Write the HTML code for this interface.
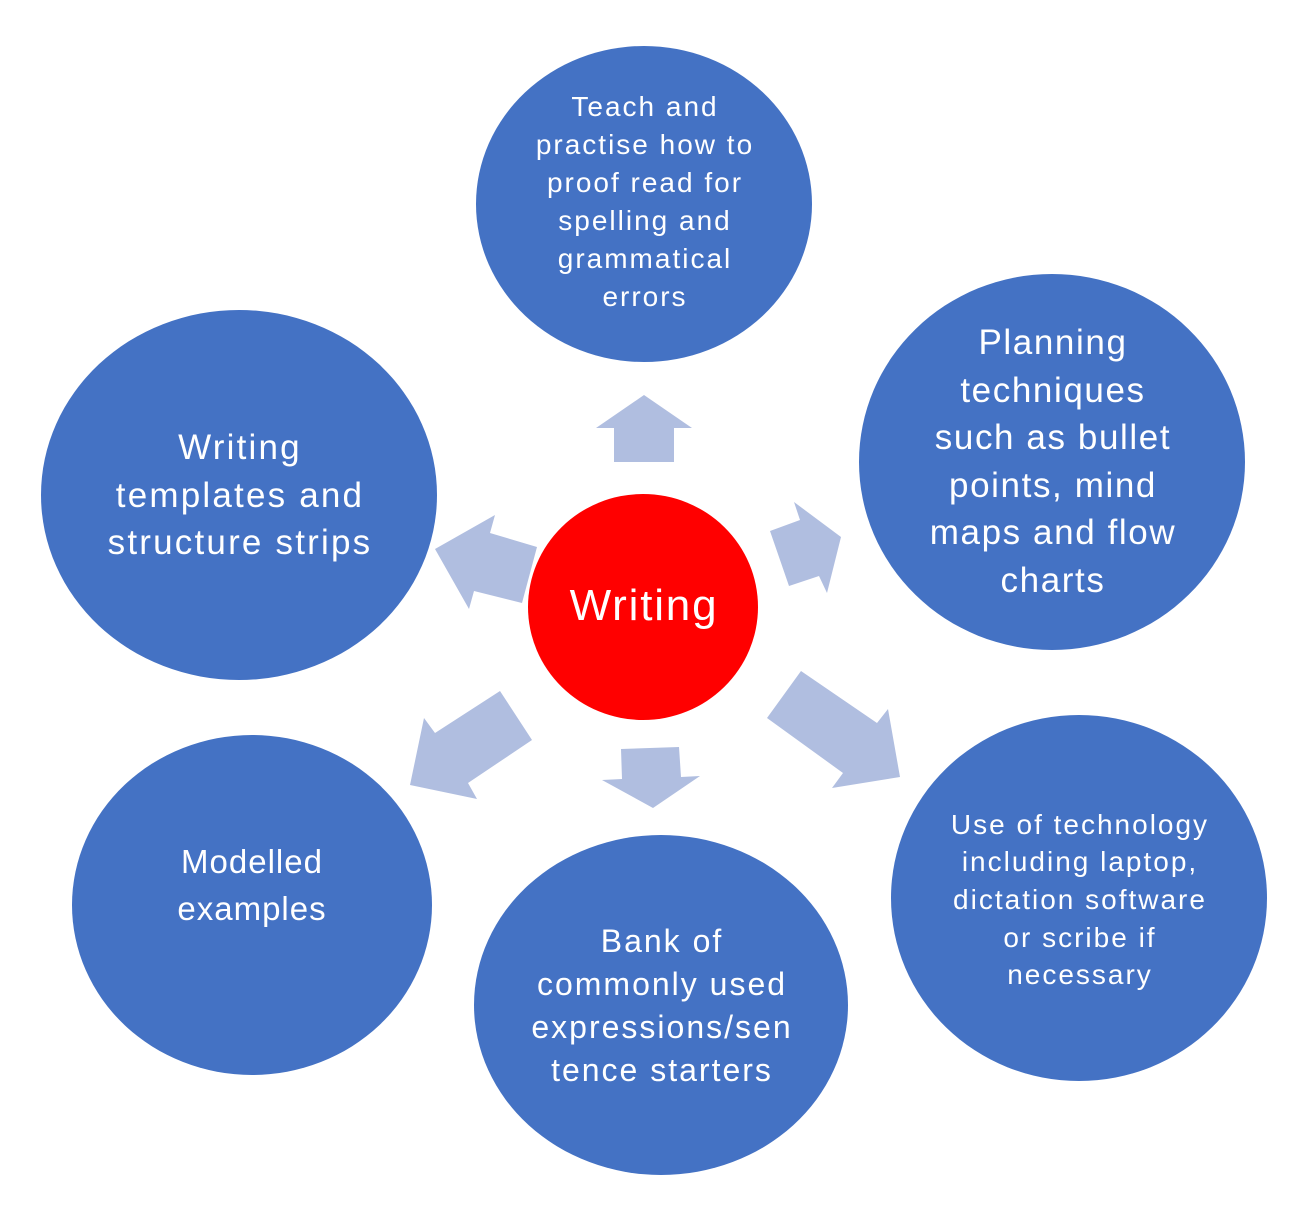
<!DOCTYPE html>
<html><head><meta charset="utf-8"><style>
html,body{margin:0;padding:0;background:#fff;}
svg{display:block;}
text{font-family:"Liberation Sans",sans-serif;fill:#fff;text-anchor:middle;}
</style></head><body>
<svg width="1310" height="1217" viewBox="0 0 1310 1217">
<g fill="#4472C4">
<ellipse cx="644" cy="204" rx="168" ry="158"/>
<ellipse cx="1052" cy="462" rx="193" ry="188"/>
<ellipse cx="239" cy="495" rx="198" ry="185"/>
<ellipse cx="252" cy="905" rx="180" ry="170"/>
<ellipse cx="661" cy="1005" rx="187" ry="170"/>
<ellipse cx="1079" cy="898" rx="188" ry="183"/>
</g>
<ellipse cx="643" cy="607" rx="115" ry="113" fill="#FF0000"/>
<g fill="#B0BEE0">
<polygon points="644,395 692,428 674,428 674,462 614,462 614,428 596,428"/>
<polygon points="435,549 495,515 490,533 537,547 522,603 474,591 469,609"/>
<polygon points="770,531 800,520 794,502 841,537 827,593 819,576 789,586"/>
<polygon points="801,671 877,723 888,709 900,777 832,788 843,773 767,718"/>
<polygon points="621,749 679,747 681,777 700,776 653,808 602,780 622,779"/>
<polygon points="500,691 532,740 468,783 477,799 410,785 424,718 435,733"/>
</g>
<g font-size="28" letter-spacing="2">
<text x="645" y="116">Teach and</text>
<text x="645" y="154">practise how to</text>
<text x="645" y="192">proof read for</text>
<text x="645" y="230">spelling and</text>
<text x="645" y="268">grammatical</text>
<text x="645" y="306">errors</text>
</g>
<g font-size="35" letter-spacing="1.6">
<text x="1053" y="354">Planning</text>
<text x="1053" y="402">techniques</text>
<text x="1053" y="449">such as bullet</text>
<text x="1053" y="497">points, mind</text>
<text x="1053" y="544">maps and flow</text>
<text x="1053" y="592">charts</text>
</g>
<g font-size="35" letter-spacing="2.2">
<text x="240" y="459">Writing</text>
<text x="240" y="507">templates and</text>
<text x="240" y="554">structure strips</text>
</g>
<text x="644" y="620" font-size="44" letter-spacing="1.8">Writing</text>
<g font-size="33" letter-spacing="1">
<text x="252" y="873">Modelled</text>
<text x="252" y="920">examples</text>
</g>
<g font-size="32" letter-spacing="2">
<text x="662" y="952">Bank of</text>
<text x="662" y="995">commonly used</text>
<text x="662" y="1038">expressions/sen</text>
<text x="662" y="1081">tence starters</text>
</g>
<g font-size="28" letter-spacing="2">
<text x="1080" y="834">Use of technology</text>
<text x="1080" y="871">including laptop,</text>
<text x="1080" y="909">dictation software</text>
<text x="1080" y="947">or scribe if</text>
<text x="1080" y="984">necessary</text>
</g>
</svg>
</body></html>
